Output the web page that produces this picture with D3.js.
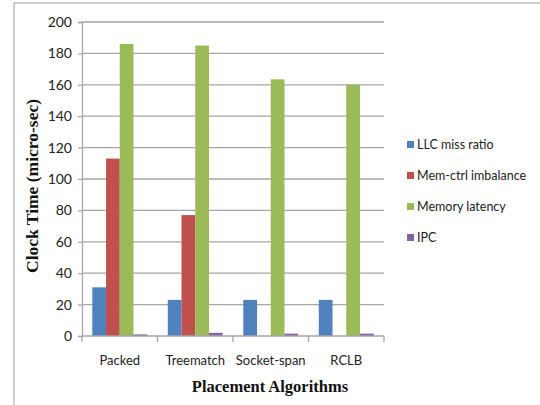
<!DOCTYPE html>
<html>
<head>
<meta charset="utf-8">
<script src="https://cdn.jsdelivr.net/npm/d3@7"></script>
<style>
  html, body { margin: 0; padding: 0; background: #fff; }
  svg { display: block; }
</style>
</head>
<body>
<svg id="chart" width="540" height="405"></svg>
<script>
// Placement algorithms compared on four metrics
const categories = ["Packed", "Treematch", "Socket-span", "RCLB"];
const seriesNames = ["LLC miss ratio", "Mem-ctrl imbalance", "Memory latency", "IPC"];
const llcMiss = [31, 23, 23, 23];
const memCtrl = [113, 77, 0, 0];
const memLatency = [186, 185, 163.5, 160];
const ipc = [1, 2, 1.5, 1.5];
const yTicks = [0, 20, 40, 60, 80, 100, 120, 140, 160, 180, 200];
const colors = ["#4F81BD", "#C0504D", "#9BBB59", "#8064A2"];

const series = [llcMiss, memCtrl, memLatency, ipc];

const svg = d3.select("#chart");
const plot = { left: 82, right: 384, top: 22, bottom: 336 };

// Outer chart frame (only top and left edges fall inside the view)
svg.append("rect")
  .attr("x", 14).attr("y", 3)
  .attr("width", 540).attr("height", 420)
  .attr("fill", "#fff")
  .attr("stroke", "#BDBDBD").attr("stroke-width", 1.5);

const x0 = d3.scaleBand().domain(categories).range([plot.left, plot.right]).paddingInner(0).paddingOuter(0);
const x1 = d3.scaleBand().domain(d3.range(series.length)).range([0, x0.bandwidth()]).paddingInner(0).paddingOuter(0.75);
const y = d3.scaleLinear().domain([0, 200]).range([plot.bottom, plot.top]);

// Horizontal gridlines
svg.append("g")
  .selectAll("line")
  .data(yTicks.filter(t => t > 0))
  .join("line")
  .attr("x1", plot.left).attr("x2", plot.right)
  .attr("y1", d => y(d)).attr("y2", d => y(d))
  .attr("stroke", "#A6A6A6").attr("stroke-width", 1.3);

// Y axis
const yAxis = svg.append("g")
  .attr("transform", `translate(${plot.left},0)`)
  .call(d3.axisLeft(y).tickValues(yTicks).tickSize(4).tickPadding(6));
yAxis.select(".domain").attr("stroke", "#A6A6A6").attr("stroke-width", 1.3);
yAxis.selectAll(".tick line").attr("stroke", "#A6A6A6").attr("stroke-width", 1.3);
yAxis.selectAll("text")
  .attr("font-family", "Lato, 'Open Sans', sans-serif")
  .attr("font-size", 14).attr("fill", "#222");

// Bars
const groups = svg.append("g")
  .selectAll("g")
  .data(categories)
  .join("g")
  .attr("transform", d => `translate(${x0(d)},0)`);

groups.selectAll("rect")
  .data((c, ci) => series.map((s, si) => ({ si, v: s[ci] })))
  .join("rect")
  .attr("x", d => x1(d.si))
  .attr("width", x1.bandwidth())
  .attr("y", d => y(d.v))
  .attr("height", d => y(0) - y(d.v))
  .attr("fill", d => colors[d.si]);

// X axis with ticks between categories
const xAxisG = svg.append("g").attr("transform", `translate(0,${plot.bottom})`);
xAxisG.append("line")
  .attr("x1", plot.left).attr("x2", plot.right)
  .attr("y1", 0).attr("y2", 0)
  .attr("stroke", "#A6A6A6").attr("stroke-width", 1.3);
const bounds = categories.map(c => x0(c)).concat([plot.right]);
xAxisG.selectAll("line.tk")
  .data(bounds)
  .join("line").attr("class", "tk")
  .attr("x1", d => d).attr("x2", d => d)
  .attr("y1", 0).attr("y2", 6)
  .attr("stroke", "#A6A6A6").attr("stroke-width", 1.3);
xAxisG.selectAll("text")
  .data(categories)
  .join("text")
  .attr("x", d => x0(d) + x0.bandwidth() / 2)
  .attr("y", 29)
  .attr("text-anchor", "middle")
  .attr("font-family", "Lato, 'Open Sans', sans-serif")
  .attr("font-size", 13).attr("fill", "#222")
  .text(d => d);

// Axis titles
svg.append("text")
  .attr("transform", `translate(38,186) rotate(-90)`)
  .attr("text-anchor", "middle")
  .attr("font-family", "'Liberation Serif', 'DejaVu Serif', serif")
  .attr("font-weight", "bold").attr("font-size", 17.5).attr("fill", "#111")
  .text("Clock Time (micro-sec)");

svg.append("text")
  .attr("x", 270).attr("y", 392)
  .attr("text-anchor", "middle")
  .attr("font-family", "'Liberation Serif', 'DejaVu Serif', serif")
  .attr("font-weight", "bold").attr("font-size", 16.5).attr("fill", "#111")
  .text("Placement Algorithms");

// Legend
const legend = svg.append("g").attr("transform", "translate(407,145)");
const items = legend.selectAll("g")
  .data(seriesNames)
  .join("g")
  .attr("transform", (d, i) => `translate(0,${i * 31})`);
items.append("rect")
  .attr("x", 0).attr("y", -4).attr("width", 7).attr("height", 7)
  .attr("fill", (d, i) => colors[i]);
items.append("text")
  .attr("x", 10).attr("y", 0).attr("dy", "0.35em")
  .attr("font-family", "Lato, 'Open Sans', sans-serif")
  .attr("font-size", 12.5).attr("fill", "#222")
  .text(d => d);
</script>
</body>
</html>
